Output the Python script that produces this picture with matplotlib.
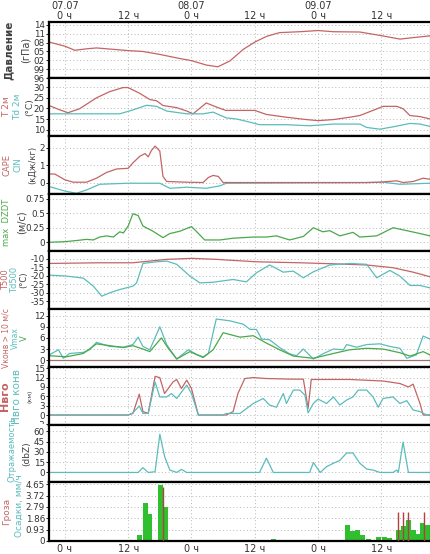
import numpy as np
import matplotlib
matplotlib.use('Agg')
import matplotlib.pyplot as plt
from matplotlib.transforms import Bbox

plt.rcParams['font.family'] = ['DejaVu Sans']

RED = '#c46464'
CYAN = '#5bbcbc'
GREEN = '#4aa84a'
BAR_GREEN = '#2fbf2f'
DARK = '#404040'

# time axis in hours from 07.07 0 h
xtick_hours = [0, 12, 24, 36, 48, 60]
top_labels = ['07.07\n0 ч', '12 ч', '08.07\n0 ч', '12 ч', '09.07\n0 ч', '12 ч']
bottom_labels = ['0 ч', '12 ч', '0 ч', '12 ч', '0 ч', '12 ч']

# pressure (hPa)
p_h = [-3, 0, 1.9, 4.1, 6, 12, 14.8, 18, 21.8, 24, 26.8, 29, 31.3, 33.8, 36, 38.2,
       40.7, 44.5, 48, 50.9, 55.9, 60.2, 63.5, 66, 69.2]
p_val = [1008.2, 1006.8, 1005.4, 1005.9, 1006.2, 1005.3, 1005.0, 1004.0, 1002.6, 1001.9,
         1000.4, 999.8, 1001.8, 1005.7, 1008.2, 1010.1, 1011.4, 1011.7, 1012.1, 1011.7,
         1011.6, 1010.3, 1009.2, 1009.7, 1010.3]
p_ticks = [996, 999, 1002, 1005, 1008, 1011, 1014]
p_ticklabels = ['96', '99', '02', '05', '08', '11', '14']

# T 2m / Td 2m
t2_h = [-3, -1.2, 0.6, 2.8, 6, 8.5, 11, 12, 14.2, 16.1, 17.4, 18.6, 21.2, 23.1, 24.3,
        26.8, 28.7, 30.5, 36, 38.2, 42, 45.8, 48, 50.9, 54, 55.9, 58.4, 60.3, 62.9, 64.1,
        65.4, 67.3, 69.2]
t2_val = [21.4, 19.6, 18.0, 19.9, 25.0, 27.9, 29.8, 29.8, 27.1, 24.2, 23.6, 21.4, 20.4,
          18.8, 17.5, 22.6, 20.7, 19.1, 19.1, 17.2, 15.9, 14.8, 14.3, 14.8, 15.9, 16.7,
          19.1, 21.0, 21.0, 19.9, 16.7, 16.2, 15.1]
td2_h = [-3, 0, 4.1, 10.4, 12.6, 15.5, 17.4, 19.3, 23.1, 26.2, 28.1, 30.6, 32.5, 34.4,
         36.9, 42, 46.4, 50.9, 55.9, 57.2, 59.7, 62.2, 65.4, 67.3, 69.2]
td2_val = [17.5, 17.5, 17.5, 17.5, 19.1, 21.5, 21.0, 18.8, 17.5, 17.5, 18.3, 15.6, 15.1,
           14.0, 12.4, 12.4, 11.9, 12.7, 12.7, 11.1, 10.3, 11.4, 13.0, 12.7, 11.6]

# CAPE / CIN (kJ/kg)
cape_h = [-3, -1.9, 0, 1.6, 4.1, 6, 7.9, 9.8, 12, 12.9, 14.2, 15.2, 15.8, 16.4, 17.1,
          18, 18.6, 19.3, 23.1, 26.2, 27.2, 28.1, 29.1, 30, 57.2, 59.7, 62.9, 64.1, 66,
          67.9, 69.2]
cape_val = [0.49, 0.49, 0.16, 0.02, 0.02, 0.25, 0.58, 0.78, 0.82, 1.13, 1.51, 1.67, 1.48,
            1.84, 2.10, 1.81, 0.35, 0.06, 0.02, 0.0, 0.29, 0.41, 0.35, 0.0, 0.0, 0.02,
            0.10, 0.0, 0.06, 0.25, 0.19]
cin_h = [-3, 0, 2.2, 4.1, 6.6, 12, 18, 19.9, 23.1, 26.8, 29.4, 30.6, 57.2, 60.3, 63.5, 69.2]
cin_val = [-0.23, -0.49, -0.62, -0.43, -0.10, -0.04, -0.04, -0.33, -0.27, -0.33, -0.19,
           -0.04, 0.0, 0.02, -0.10, -0.04]

# max DZDT (m/s)
dz_h = [-3, 0, 2.2, 4.1, 5.4, 6.6, 7.9, 9.2, 10.4, 11.1, 12, 12.9, 13.9, 14.8, 16.7, 18.6,
        19.9, 21.8, 24, 24.9, 26.5, 29.4, 31.9, 35.7, 38.2, 40.1, 42.6, 45.2, 47.1, 48.9,
        50.2, 52.1, 54.6, 55.9, 59.1, 62.2, 64.8, 67.3, 69.2]
dz_val = [0.0, 0.01, 0.03, 0.05, 0.04, 0.09, 0.11, 0.09, 0.18, 0.16, 0.28, 0.49, 0.46,
          0.28, 0.19, 0.08, 0.15, 0.19, 0.27, 0.19, 0.04, 0.04, 0.07, 0.09, 0.09, 0.11,
          0.04, 0.10, 0.25, 0.18, 0.20, 0.11, 0.17, 0.09, 0.11, 0.25, 0.20, 0.15, 0.11]

# T500 / Td500 (C)
t500_h = [-3, 6.6, 12.9, 19.3, 24.1, 28.7, 36.1, 44.5, 50.9, 57.2, 62.2, 66, 69.2]
t500_val = [-12.8, -12.4, -12.4, -10.4, -9.8, -10.4, -11.8, -12.4, -13.0, -13.7, -15.3,
            -17.9, -20.6]
td500_h = [-3, 0.3, 3.5, 5.4, 7, 8.5, 10.4, 12.9, 13.6, 14.8, 17.4, 19.3, 21.2, 23.7, 25.6,
           28.1, 31.9, 34.4, 36.3, 38.8, 41.4, 43.3, 45.2, 47.1, 50.2, 54, 57.2, 59.1, 61.6,
           63.5, 65.4, 67.3, 69.2]
td500_val = [-19.6, -20.2, -21.4, -26.1, -32.0, -30.0, -28.1, -26.1, -24.2, -12.8, -11.8,
             -11.4, -13.3, -20.2, -24.2, -23.8, -22.2, -23.6, -18.3, -13.7, -17.9, -17.3,
             -21.2, -17.7, -13.7, -12.8, -13.3, -21.2, -16.9, -20.2, -25.7, -25.7, -27.1]

# wind: Vmax, V, Vконв > 10 m/s
vmax_h = [-3, -1.2, -0.3, 0.9, 3.5, 4.7, 6, 8.5, 11.1, 12.9, 13.9, 14.8, 16.1, 18, 19.3,
          21.2, 23.4, 24.9, 26.2, 27.2, 28.7, 31.3, 33.8, 35.1, 36.3, 37.3, 38.8, 40.7,
          42.6, 43.9, 45.2, 47.1, 48.9, 50.9, 52.8, 53.4, 55.3, 57.2, 59.7, 61.6, 63.5,
          64.8, 66.6, 67.9, 69.2]
vmax_val = [1.4, 2.8, 0.5, 1.8, 2.1, 2.8, 4.8, 3.7, 3.5, 4.2, 6.2, 3.7, 2.8, 9.0, 4.2, 0.3,
            2.8, 1.6, 0.9, 1.8, 11.1, 10.6, 9.7, 8.3, 8.3, 5.7, 5.5, 3.4, 1.7, 1.2, 3.0, 0.3,
            1.7, 3.0, 2.8, 4.2, 3.5, 4.2, 4.4, 3.7, 3.2, 0.5, 1.4, 6.5, 5.7]
v_h = [-3, 0.3, 3.5, 6, 11.1, 12.9, 14.8, 16.1, 18.3, 19.6, 21.2, 23.7, 26.2, 28.1, 30,
       33.2, 35.7, 38.2, 40.7, 43.3, 47.1, 50.9, 54, 57.2, 60.3, 63.5, 65.4, 67.9, 69.2]
v_val = [1.2, 0.9, 1.8, 4.4, 3.4, 3.9, 3.0, 2.3, 6.0, 3.2, 0.3, 2.3, 0.7, 2.8, 7.4, 6.2,
         6.6, 4.6, 2.8, 1.1, 0.5, 1.8, 2.8, 3.2, 3.0, 2.0, 1.1, 2.3, 1.4]
vconv_h = [-3, 69.2]
vconv_val = [0.0, 0.0]

# Hвго / Hвго конв (km)
hgo_h = [-3, 12, 12.9, 14.1, 14.8, 15.8, 17.1, 18, 18.9, 20.5, 21.2, 22.1, 23.1, 24,
         25.3, 30.6, 31.9, 32.8, 34.1, 35.7, 38.2, 43.3, 45.2, 46.1, 46.7, 54, 60.3, 63.5,
         65.1, 66, 67.3, 67.9, 69.2]
hgo_val = [0.0, 0.0, 0.5, 6.7, 1.1, 0.5, 12.4, 12.0, 6.9, 10.6, 11.4, 8.5, 11.2, 8.5, 0.0,
           0.0, 1.1, 6.9, 11.7, 12.0, 11.7, 11.5, 11.5, 2.1, 11.4, 11.4, 10.9, 10.1, 9.0,
           9.9, 3.7, 0.0, 0.0]
hgoc_h = [-3, 12, 12.9, 14.1, 14.8, 15.8, 17.1, 18, 19.3, 20.2, 21.2, 23.1, 24, 25.3, 30,
          30.6, 33.2, 35.7, 37.6, 38.8, 40.1, 41.4, 42, 43.3, 44.5, 45.5, 46.1, 47.1, 48,
          49.6, 50.9, 52.1, 53.4, 54.6, 55.6, 57.2, 58.4, 59.4, 60.3, 62.2, 63.5, 64.8,
          66, 67.3, 68.6, 69.2]
hgoc_val = [0.0, 0.0, 0.7, 2.9, 0.5, 0.5, 10.6, 5.8, 5.8, 6.9, 5.3, 9.6, 6.9, 0.0, 0.0,
            0.5, 0.5, 3.7, 5.3, 3.2, 2.5, 6.9, 3.7, 8.0, 8.0, 6.4, 0.7, 3.7, 5.1, 3.7, 5.8,
            3.2, 4.8, 5.8, 8.0, 8.0, 5.8, 2.5, 5.3, 5.8, 3.7, 4.6, 1.6, 1.1, 0.0, 0.0]

# reflectivity (dBZ)
refl_h = [-3, 13.9, 14.8, 15.8, 17.1, 18, 18.9, 19.9, 21.2, 22.1, 23.1, 36.9, 38.2, 39.5,
          46.4, 47.1, 48.4, 49.6, 50.9, 52.1, 53.4, 54.6, 55.9, 57.2, 58.4, 59.7, 62.2,
          62.9, 63.2, 64.1, 65.1, 69.2]
refl_val = [0, 0, 7, 0, 1, 56, 23.5, 3.5, 0, 4.5, 0, 0, 21, 0, 0, 14.5, 0, 8.5, 13.5,
            17.5, 28.5, 28.5, 13.5, 5, 3.5, 0, 0, 3.5, 0, 44.5, 0, 0]

# precipitation (mm/h) and thunder flags
rain_h = [14.2, 15.2, 16.0, 18.2, 19.1, 39.5, 41.5, 42.5, 51.5, 53.5, 54.5, 55.4, 56.4,
          57.5, 59.4, 60.6, 61.6, 63.2, 64.1, 65.1, 66.0, 66.9, 67.7, 68.7]
rain_val = [0.48, 3.09, 2.23, 4.57, 2.82, 0.15, 0.07, 0.07, 0.1, 1.34, 0.80, 0.89, 0.48,
            0.20, 0.35, 0.30, 0.27, 0.94, 1.20, 1.75, 0.94, 0.54, 1.48, 1.34]
storm_h = [18.6, 63.2, 64.1, 65.1, 68.1]
storm_val = [4.4, 2.42, 2.42, 2.42, 2.42]
rain_ticks = [0, 0.93, 1.86, 2.79, 3.72, 4.65]
rain_ticklabels = ['0', '0.93', '1.86', '2.79', '3.72', '4.65']

W, H = 431, 554
fig = plt.figure(figsize=(W / 100, H / 100), dpi=100)
fig.patch.set_facecolor('white')

edges = [22, 78, 136, 194, 251, 309, 367, 425, 482, 541]
left, right = 49, 430
axes = []
for i in range(9):
    top, bot = edges[i], edges[i + 1]
    ax = fig.add_axes([left / W, 1 - bot / H, (right - left) / W, (bot - top) / H])
    ax.set_xlim(-3, 69.2)
    ax.set_xticks(xtick_hours)
    ax.tick_params(axis='x', length=0, labelbottom=False)
    ax.tick_params(axis='y', length=2, width=0.6, pad=1, labelsize=6.3, labelcolor='#333333')
    ax.grid(True, color='#b8b8b8', linestyle=(0, (1, 2.5)), linewidth=0.7)
    for s in ax.spines.values():
        s.set_linewidth(1.6)
        s.set_color('black')
    ax.spines['right'].set_linewidth(0.8)
    axes.append(ax)

lw = 0.9

# 1 pressure
ax = axes[0]
ax.plot(p_h, p_val, color=RED, lw=lw)
ax.set_ylim(996.3, 1015)
ax.set_yticks(p_ticks)
ax.set_yticklabels(p_ticklabels)
ax.tick_params(axis='x', labeltop=True, labelsize=7, pad=1)
ax.set_xticklabels(top_labels, color='#333333', linespacing=0.95)

# 2 temperature
ax = axes[1]
ax.plot(t2_h, t2_val, color=RED, lw=lw)
ax.plot(td2_h, td2_val, color=CYAN, lw=lw)
ax.set_ylim(7.1, 34.3)
ax.set_yticks([10, 15, 20, 25, 30])

# 3 CAPE/CIN
ax = axes[2]
ax.plot(cin_h, cin_val, color=CYAN, lw=lw)
ax.plot(cape_h, cape_val, color=RED, lw=lw)
ax.set_ylim(-0.66, 2.68)
ax.set_yticks([0, 1, 2])

# 4 DZDT
ax = axes[3]
ax.plot(dz_h, dz_val, color=GREEN, lw=lw)
ax.set_ylim(-0.15, 0.83)
ax.set_yticks([0, 0.25, 0.5, 0.75])
ax.set_yticklabels(['0', '0.25', '0.5', '0.75'])

# 5 T500
ax = axes[4]
ax.plot(t500_h, t500_val, color=RED, lw=lw)
ax.plot(td500_h, td500_val, color=CYAN, lw=lw)
ax.set_ylim(-39.5, -5.5)
ax.set_yticks([-35, -30, -25, -20, -15, -10])
ax.set_yticklabels(['-35', '-30', '-25', '-20', '-15', '-10'])

# 6 wind
ax = axes[5]
ax.plot(vconv_h, vconv_val, color='#a07070', lw=lw)
ax.plot(vmax_h, vmax_val, color=CYAN, lw=lw)
ax.plot(v_h, v_val, color=GREEN, lw=lw)
ax.set_ylim(-1.85, 13.8)
ax.set_yticks([0, 3, 6, 9, 12])

# 7 Hgo
ax = axes[6]
ax.plot(hgo_h, hgo_val, color=RED, lw=lw)
ax.plot(hgoc_h, hgoc_val, color=CYAN, lw=lw)
ax.set_ylim(-3.2, 15.4)
ax.set_yticks([-3, 0, 3, 6, 9, 12, 15])
ax.set_yticklabels(['-3', '0', '3', '6', '9', '12', '15'])
# the lowest label is cut by the panel edge, as in the original
clip = Bbox.from_extents(0, (1 - edges[7] / H) * H + 1, W, (1 - edges[6] / H) * H + 6)
lab = ax.get_yticklabels()[0]
lab.set_clip_box(clip)
lab.set_clip_on(True)

# 8 reflectivity
ax = axes[7]
ax.plot(refl_h, refl_val, color=CYAN, lw=lw)
ax.set_ylim(-14, 69.5)
ax.set_yticks([0, 15, 30, 45, 60])

# 9 precipitation
ax = axes[8]
ax.bar(rain_h, rain_val, width=0.95, color=BAR_GREEN, edgecolor='none', zorder=2)
ax.vlines(storm_h, 0, storm_val, color='#b04040', lw=1.0, zorder=3)
ax.set_ylim(0, 4.84)
ax.set_yticks(rain_ticks)
ax.set_yticklabels(rain_ticklabels)
ax.tick_params(axis='x', labelbottom=True, labelsize=7, pad=2)
ax.set_xticklabels(bottom_labels, color='#333333')


def vlabel(x, yc, text, color, size=6.5, weight='normal'):
    fig.text(x / W, 1 - yc / H, text, rotation=90, color=color, fontsize=size,
             fontweight=weight, ha='center', va='center')


mid = [(edges[i] + edges[i + 1]) / 2 for i in range(9)]
vlabel(9, mid[0], 'Давление', DARK, 7.5, 'bold')
vlabel(26, mid[0], '(гПа)', DARK, 7)
vlabel(7, mid[1], 'T 2м', RED, 6.5)
vlabel(18, mid[1], 'Td 2м', CYAN, 6.5)
vlabel(30, mid[1], '(°C)', DARK, 6.5)
vlabel(7, mid[2], 'CAPE', RED, 6)
vlabel(18, mid[2], 'CIN', CYAN, 6)
vlabel(32, mid[2], '(кДж/кг)', DARK, 6)
vlabel(7, mid[3], 'max  DZDT', GREEN, 6)
vlabel(22, mid[3], '(м/с)', DARK, 7)
vlabel(6, mid[4], 'T500', RED, 6)
vlabel(15, mid[4], 'Td500', CYAN, 6)
vlabel(24, mid[4], '(°C)', DARK, 6)
vlabel(6, mid[5], 'Vконв > 10 м/с', RED, 5.5)
vlabel(15, mid[5], 'Vmax', CYAN, 5.5)
vlabel(24, mid[5], 'V', GREEN, 6)
vlabel(5, mid[6], 'Hвго', RED, 8, 'bold')
vlabel(17, mid[6], 'Hвго конв', CYAN, 7.5)
vlabel(30, mid[6], '(км)', DARK, 4.5)
vlabel(12, mid[7] - 4, 'Отражаемость', CYAN, 6)
vlabel(27, mid[7], '(dbZ)', DARK, 6.5)
vlabel(7, mid[8], 'Гроза', RED, 6.5)
vlabel(19, mid[8] - 6, 'Осадки, мм/ч', CYAN, 6.5)

fig.savefig('out.png', dpi=100)
